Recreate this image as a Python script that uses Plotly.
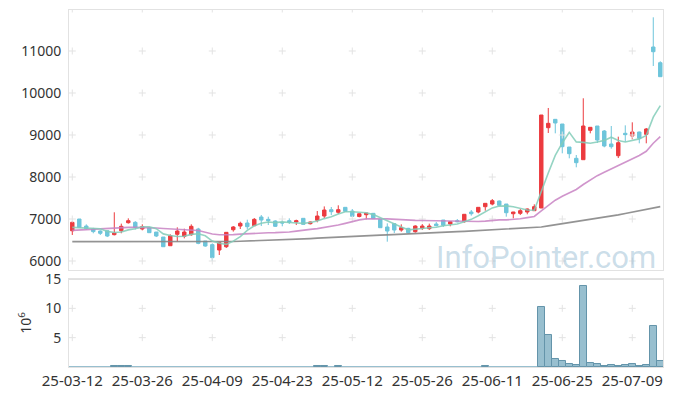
import numpy as np
import pandas as pd
import plotly.graph_objects as go
from plotly.subplots import make_subplots

# ---- data ----
holidays = ["2025-05-01", "2025-05-05", "2025-05-06", "2025-06-03", "2025-06-06"]
dates = [d for d in pd.bdate_range("2025-03-12", "2025-07-15") if d.strftime("%Y-%m-%d") not in holidays]

open_ = [6720, 7000, 6833, 6762, 6714, 6720, 6627, 6721, 6912, 6921,
         6762, 6793, 6690, 6571, 6364, 6636, 6588, 6627, 6762, 6476,
         6390, 6262, 6340, 6745, 6833, 6905, 6840, 7048, 6992, 6952,
         6920, 6960, 6929, 7016, 6888, 6969, 7071, 7222, 7160, 7278,
         7190, 7060, 7102, 7135, 6992, 6810, 6888, 6738, 6778, 6698,
         6778, 6770, 6881, 6976, 6881, 6960, 6936, 7167, 7167, 7293,
         7357, 7428, 7357, 7126, 7135, 7167, 7198, 7262, 9174, 9373,
         9262, 8714, 8445, 8412, 9111, 9214, 9095, 8786, 8507, 9040,
         8976, 9071, 9016, 11095, 10721]
high = [6950, 7000, 6873, 6790, 6730, 6720, 7160, 6890, 7016, 6950,
        6873, 6800, 6690, 6571, 6636, 6802, 6770, 6873, 6790, 6476,
        6420, 6440, 6690, 6833, 6936, 6984, 7024, 7095, 7055, 6970,
        6984, 7016, 6984, 7016, 6940, 7190, 7300, 7286, 7326, 7278,
        7238, 7130, 7143, 7140, 6992, 6897, 6900, 6873, 6790, 6850,
        6880, 6890, 6928, 6976, 6950, 7000, 7112, 7214, 7278, 7373,
        7476, 7440, 7357, 7170, 7238, 7250, 7350, 9476, 9643, 9380,
        9262, 8714, 8524, 9874, 9190, 9214, 9119, 9214, 8960, 9230,
        9302, 9080, 9167, 11802, 10755]
low = [6620, 6790, 6746, 6660, 6620, 6570, 6610, 6660, 6890, 6750,
       6730, 6670, 6570, 6340, 6364, 6460, 6540, 6600, 6400, 6340,
       6000, 6143, 6310, 6700, 6762, 6754, 6840, 6833, 6857, 6810,
       6826, 6881, 6857, 6873, 6870, 6921, 7024, 7095, 7119, 7183,
       7064, 7040, 6992, 7000, 6790, 6460, 6667, 6698, 6660, 6674,
       6738, 6740, 6830, 6810, 6826, 6920, 6912, 7080, 7135, 7198,
       7326, 7320, 7055, 7016, 7095, 7112, 7198, 7262, 9048, 9040,
       8564, 8445, 8231, 8412, 9040, 8810, 8707, 8674, 8452, 8840,
       8898, 8802, 8802, 10643, 10388]
close = [6920, 6800, 6770, 6700, 6660, 6595, 6666, 6826, 6960, 6802,
         6817, 6674, 6595, 6340, 6602, 6714, 6690, 6826, 6420, 6357,
         6080, 6436, 6683, 6810, 6897, 6817, 6992, 6976, 6960, 6826,
         6905, 6921, 6960, 6873, 6929, 7071, 7214, 7174, 7222, 7183,
         7064, 7125, 7143, 7008, 6793, 6714, 6738, 6793, 6674, 6833,
         6833, 6833, 6841, 6850, 6936, 6936, 7112, 7126, 7278, 7373,
         7436, 7326, 7150, 7167, 7198, 7238, 7293, 9476, 9278, 9286,
         8722, 8555, 8341, 9214, 9183, 8881, 8738, 8722, 8817, 9008,
         9071, 8921, 9143, 10983, 10388]
volume_m = [0.01, 0.01, 0.01, 0.01, 0.01, 0.01, 0.15, 0.15, 0.15, 0.01,
            0.01, 0.01, 0.01, 0.01, 0.01, 0.01, 0.01, 0.01, 0.01, 0.01,
            0.01, 0.01, 0.01, 0.01, 0.01, 0.01, 0.01, 0.01, 0.01, 0.01,
            0.01, 0.01, 0.01, 0.01, 0.01, 0.15, 0.15, 0.01, 0.15, 0.01,
            0.01, 0.01, 0.01, 0.01, 0.01, 0.01, 0.01, 0.01, 0.01, 0.01,
            0.01, 0.01, 0.01, 0.01, 0.01, 0.01, 0.01, 0.01, 0.01, 0.15,
            0.01, 0.01, 0.01, 0.01, 0.01, 0.01, 0.01, 10.2, 5.45, 1.36,
            1.0, 0.5, 0.35, 13.8, 0.7, 0.5, 0.2, 0.35, 0.2, 0.35,
            0.5, 0.2, 0.35, 7.0, 1.0]
# moving-average values before a full window exists
ma5_warmup = [6800, 6790, 6780, 6770]
ma20_warmup = [6730, 6740, 6750, 6760, 6770, 6780, 6790, 6795, 6800, 6800,
               6800, 6795, 6785, 6775, 6765, 6758, 6750, 6740, 6725]
# long moving average (gray)
ma_long = [6460, 6460, 6459, 6458, 6457, 6456, 6455, 6455, 6455, 6455,
           6455, 6455, 6454, 6453, 6452, 6451, 6450, 6450, 6450, 6450,
           6452, 6455, 6460, 6465, 6470, 6475, 6480, 6485, 6490, 6495,
           6502, 6510, 6518, 6526, 6535, 6545, 6555, 6565, 6572, 6580,
           6590, 6598, 6605, 6612, 6618, 6624, 6630, 6636, 6642, 6650,
           6660, 6668, 6676, 6684, 6692, 6700, 6708, 6716, 6724, 6731,
           6738, 6746, 6754, 6762, 6770, 6778, 6790, 6810, 6835, 6860,
           6886, 6912, 6938, 6964, 6990, 7015, 7041, 7070, 7100, 7132,
           7164, 7196, 7228, 7260, 7293]
tick_idx = [0, 10, 20, 30, 40, 50, 60, 70, 80]
price_ticks = [6000, 7000, 8000, 9000, 10000, 11000]
vol_ticks = [5, 10, 15]

# ---- derived ----
x = list(range(len(dates)))
tick_text = [dates[i].strftime("%y-%m-%d") for i in tick_idx]
cs = pd.Series(close, dtype=float)
ma5 = cs.rolling(5).mean().values
ma5[:len(ma5_warmup)] = ma5_warmup
ma20 = cs.rolling(20).mean().values
ma20[:len(ma20_warmup)] = ma20_warmup
bar_line_w = [1 if v >= 0.1 else 0 for v in volume_m]

RED = "#ec3b3f"
BLUE = "#6ec5db"
GRID = "#e3e3e3"

fig = make_subplots(rows=2, cols=1, shared_xaxes=True, vertical_spacing=0.025,
                    row_heights=[0.75, 0.25])

# grid crosses
gx = [i for i in tick_idx for _ in price_ticks + [12000]]
gy = [v for _ in tick_idx for v in price_ticks + [12000]]
fig.add_trace(go.Scatter(x=gx, y=gy, mode="markers", hoverinfo="skip",
                         marker=dict(symbol="cross-thin", size=5,
                                     line=dict(color=GRID, width=1))), row=1, col=1)
gx2 = [i for i in tick_idx for _ in vol_ticks[:2]]
gy2 = [v for _ in tick_idx for v in vol_ticks[:2]]
fig.add_trace(go.Scatter(x=gx2, y=gy2, mode="markers", hoverinfo="skip",
                         marker=dict(symbol="cross-thin", size=5,
                                     line=dict(color=GRID, width=1))), row=2, col=1)

fig.add_trace(go.Candlestick(
    x=x, open=open_, high=high, low=low, close=close,
    increasing=dict(line=dict(color=RED, width=1), fillcolor=RED),
    decreasing=dict(line=dict(color=BLUE, width=1), fillcolor=BLUE),
    whiskerwidth=0, hoverinfo="skip"), row=1, col=1)

fig.add_trace(go.Scatter(x=x, y=ma_long, mode="lines",
                         line=dict(color="rgba(135,135,135,0.9)", width=1.7)), row=1, col=1)
fig.add_trace(go.Scatter(x=x, y=ma20, mode="lines",
                         line=dict(color="rgba(200,130,195,0.85)", width=1.6)), row=1, col=1)
fig.add_trace(go.Scatter(x=x, y=ma5, mode="lines",
                         line=dict(color="rgba(130,205,185,0.85)", width=1.6)), row=1, col=1)

fig.add_trace(go.Bar(x=x, y=volume_m, width=1.0,
                     marker=dict(color="rgb(152,191,207)",
                                 line=dict(color="rgb(100,148,170)", width=bar_line_w))),
              row=2, col=1)

xr = [-0.47, 84.39]
x_font = dict(family="Noto Sans, DejaVu Sans, sans-serif", size=15, color="#333")
y_font = dict(family="Noto Sans, DejaVu Sans, sans-serif", size=14, color="#333")
fig.update_xaxes(range=xr, showgrid=False, zeroline=False, showline=True,
                 linecolor="#e2e2e2", linewidth=1, mirror=True, automargin=False,
                 tickvals=tick_idx, ticktext=tick_text, tickfont=x_font,
                 ticks="", rangeslider_visible=False)
fig.update_xaxes(showticklabels=False, row=1, col=1)
fig.update_yaxes(range=[5786, 11976], tickvals=price_ticks, tickformat="d",
                 showgrid=False, automargin=False,
                 zeroline=False, showline=True, linecolor="#e2e2e2", mirror=True,
                 tickfont=y_font, ticks="outside", ticklen=4, tickcolor="white",
                 row=1, col=1)
fig.update_yaxes(range=[0, 15], tickvals=vol_ticks, showgrid=False, zeroline=False,
                 showline=True, linecolor="#e2e2e2", mirror=True, tickfont=y_font,
                 ticks="outside", ticklen=4, tickcolor="white", automargin=False,
                 title=dict(text="10<sup>6</sup>", font=y_font, standoff=10),
                 row=2, col=1)

fig.update_layout(
    template="none",
    width=673, height=396,
    margin=dict(l=69, r=10, t=10, b=29, autoexpand=False),
    paper_bgcolor="white", plot_bgcolor="white",
    showlegend=False, bargap=0,
    yaxis=dict(domain=[0.2717, 1.0]),
    yaxis2=dict(domain=[0.0, 0.2465]),
    shapes=[dict(type="line", xref="x2", yref="y2", x0=xr[0], x1=xr[1], y0=15, y1=15,
                 line=dict(color="#e0e0e0", width=2))],
    annotations=[dict(text="InfoPointer.com", xref="paper", yref="paper",
                      x=0.803, y=0.308, xanchor="center", yanchor="middle",
                      showarrow=False,
                      font=dict(family="Roboto, sans-serif", size=31,
                                color="rgba(140,180,205,0.45)"))],
)

fig.write_html("out.html", config={"displayModeBar": False},
               post_script="document.body.style.margin='0';")
